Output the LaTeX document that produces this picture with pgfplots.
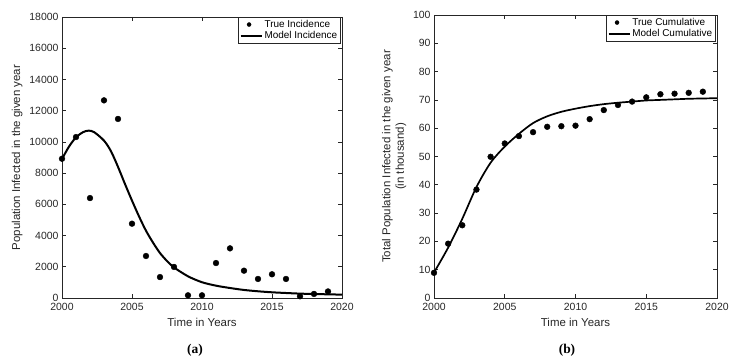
\documentclass[border=0pt]{standalone}
\usepackage{pgfplots}
\pgfplotsset{compat=1.18}
\usepackage{fontspec}
\setmainfont{Liberation Sans}
\newfontfamily\capfont{Liberation Serif}
\definecolor{axgray}{RGB}{38,38,38}
\pgfplotsset{longline/.style={legend image code/.code={\draw[##1] (0bp,0bp) -- (21bp,0bp);}}}
\begin{document}
\begin{tikzpicture}
\useasboundingbox (0bp,0bp) rectangle (737bp,362bp);
\pgfplotsset{every axis/.append style={
  scale only axis,
  axis line style={axgray, line width=0.6bp},
  every tick/.style={axgray, line width=0.6bp},
  tick align=inside, major tick length=4bp,
  ticklabel style={font=\fontsize{10.5}{12}\selectfont, text=axgray},
  xticklabel style={yshift=-2bp},
  label style={font=\fontsize{11.5}{13.5}\selectfont, text=axgray},
  /pgf/number format/assume math mode=true,
  /pgf/number format/1000 sep={},
  scaled ticks=false,
  xmin=2000, xmax=2020, xtick={2000,2005,...,2020},
  xlabel={Time in Years},
  legend cell align=left,
  legend image post style={mark size=2bp},
  legend style={font=\fontsize{10}{11}\selectfont, draw=axgray,
    at={(0.994,1.0)}, anchor=north east, inner sep=1bp, row sep=-1.5bp},
}}
\begin{axis}[at={(62bp,64bp)}, anchor=south west, width=280bp, height=281bp,
  ymin=0, ymax=18000, ytick={0,2000,...,18000},
  ylabel={Population Infected in the given year}]
\addplot[only marks, mark=*, mark size=2.9bp, black] coordinates {
(2000,8920) (2001,10310) (2002,6400) (2003,12660) (2004,11470) (2005,4760)
(2006,2690) (2007,1340) (2008,1990) (2009,170) (2010,170) (2011,2240)
(2012,3180) (2013,1750) (2014,1220) (2015,1520) (2016,1220) (2017,110)
(2018,260) (2019,420)};
\addlegendentry{True Incidence}
\addplot[black, line width=2bp, smooth, longline] coordinates {
(2000,8900) (2000.5,9700) (2001,10290) (2001.5,10620) (2001.9,10720) (2002.3,10620)
(2003,10080) (2003.5,9400) (2004,8400) (2004.5,7300) (2005,6240) (2005.5,5230)
(2006,4310) (2006.5,3550) (2007,2880) (2007.5,2370) (2008,1960) (2009,1390)
(2010,1010) (2011,790) (2012,640) (2013,515) (2014,430) (2015,365)
(2016,320) (2017,280) (2018,255) (2019,235) (2020,215)};
\addlegendentry{Model Incidence}
\end{axis}
\begin{axis}[at={(434bp,64bp)}, anchor=south west, width=283bp, height=283bp,
  ymin=0, ymax=100, ytick={0,10,...,100},
  ylabel={Total Population Infected in the given year\\(in thousand)},
  ylabel style={align=center}]
\addplot[only marks, mark=*, mark size=2.9bp, black] coordinates {
(2000,8.9) (2001,19.2) (2002,25.7) (2003,38.3) (2004,49.9) (2005,54.6)
(2006,57.2) (2007,58.6) (2008,60.5) (2009,60.7) (2010,60.9) (2011,63.2)
(2012,66.4) (2013,68.2) (2014,69.4) (2015,70.9) (2016,72.0) (2017,72.2)
(2018,72.5) (2019,72.9)};
\addlegendentry{True Cumulative}
\addplot[black, line width=1.7bp, smooth, longline] coordinates {
(2000,9.0) (2001,17.8) (2002,28.0) (2003,39.2) (2004,47.8) (2005,53.5)
(2006,58.0) (2007,61.8) (2008,64.2) (2009,65.8) (2010,66.9) (2011,67.8)
(2012,68.5) (2013,69.0) (2014,69.4) (2015,69.8) (2016,70.0) (2017,70.2)
(2018,70.4) (2019,70.5) (2020,70.6)};
\addlegendentry{Model Cumulative}
\end{axis}
\node[font=\capfont\bfseries\fontsize{13.5}{14}\selectfont] at (195bp,12bp) {(a)};
\node[font=\capfont\bfseries\fontsize{13.5}{14}\selectfont] at (567bp,12bp) {(b)};
\end{tikzpicture}
\end{document}
